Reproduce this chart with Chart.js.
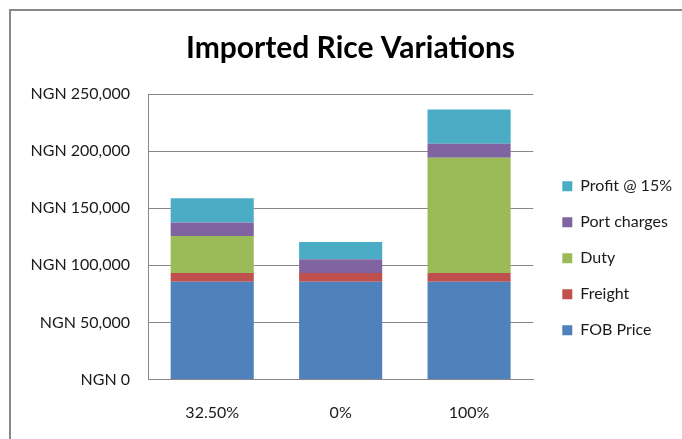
<!DOCTYPE html>
<html>
<head>
<meta charset="utf-8">
<title>Imported Rice Variations</title>
<script src="https://cdn.jsdelivr.net/npm/chart.js@4/dist/chart.umd.min.js"></script>
<style>
  html, body { margin: 0; padding: 0; background: #ffffff; }
  #wrap { position: relative; width: 682px; height: 439px; }
</style>
</head>
<body>
<div id="wrap"><canvas id="chart" width="682" height="439"></canvas></div>
<script>
// Duty scenarios (duty rate applied to imported rice)
const categories = ['32.50%', '0%', '100%'];

// Cost build-up per tonne, in Naira
const fobPrice    = [85600, 85600, 85600];
const freight     = [7600, 7600, 7600];
const duty        = [32500, 0, 100900];
const portCharges = [11700, 12000, 12300];
const profit      = [21400, 15200, 30100];

// Value axis
const yMin = 0;
const yMax = 250000;
const yStep = 50000;
const currencyPrefix = 'NGN ';

const FONT = 'Lato, "Open Sans", sans-serif';
const TEXT = '#1a1a1a';
const GRID = '#878787';

// Frame drawn around the whole chart
const framePlugin = {
  id: 'frame',
  beforeDraw(chart) {
    const ctx = chart.ctx;
    ctx.save();
    ctx.fillStyle = '#ffffff';
    ctx.fillRect(0, 0, chart.width, chart.height);
    ctx.strokeStyle = '#888888';
    ctx.lineWidth = 2;
    ctx.beginPath();
    ctx.moveTo(10, chart.height);
    ctx.lineTo(10, 10);
    ctx.lineTo(chart.width, 10);
    ctx.stroke();
    ctx.restore();
  }
};

// Nudges the title and legend boxes after layout
const nudgePlugin = {
  id: 'nudge',
  afterLayout(chart) {
    if (chart.titleBlock) {
      chart.titleBlock.left += 14;
      chart.titleBlock.right += 14;
    }
    if (chart.legend) {
      chart.legend.left += 9;
      chart.legend.right += 9;
      chart.legend.top += 47;
      chart.legend.bottom += 47;
    }
  }
};

new Chart(document.getElementById('chart'), {
  type: 'bar',
  data: {
    labels: categories,
    datasets: [
      { label: 'FOB Price',      data: fobPrice,    backgroundColor: '#4F81BD' },
      { label: 'Freight',        data: freight,     backgroundColor: '#C0504D' },
      { label: 'Duty',           data: duty,        backgroundColor: '#9BBB59' },
      { label: 'Port charges',   data: portCharges, backgroundColor: '#8064A2' },
      { label: 'Profit @ 15%',   data: profit,      backgroundColor: '#4BACC6' }
    ]
  },
  options: {
    responsive: false,
    animation: false,
    devicePixelRatio: 1,
    layout: { padding: { top: 0, left: 0, right: 9, bottom: 16.5 } },
    datasets: {
      bar: { categoryPercentage: 1.0, barPercentage: 0.647, borderWidth: 0 }
    },
    plugins: {
      title: {
        display: true,
        text: 'Imported Rice Variations',
        color: '#000000',
        font: { family: FONT, size: 30, weight: 'bold', lineHeight: 1.2 },
        padding: { top: 30.5, bottom: 27.5 }
      },
      legend: {
        position: 'right',
        reverse: true,
        labels: {
          boxWidth: 10,
          boxHeight: 10,
          padding: 20,
          color: TEXT,
          font: { family: FONT, size: 16 }
        }
      },
      tooltip: { enabled: false }
    },
    scales: {
      x: {
        stacked: true,
        afterFit(scale) { scale.height = 43; },
        grid: { display: false, drawTicks: false },
        border: { display: true, color: GRID },
        ticks: { color: TEXT, padding: 24, font: { family: FONT, size: 16 } }
      },
      y: {
        stacked: true,
        min: yMin,
        max: yMax,
        afterFit(scale) { scale.width = 148; },
        grid: { color: GRID, drawTicks: false },
        border: { display: true, color: GRID },
        ticks: {
          stepSize: yStep,
          padding: 18,
          color: TEXT,
          font: { family: FONT, size: 16 },
          callback: (v) => currencyPrefix + Number(v).toLocaleString('en-US')
        }
      }
    }
  },
  plugins: [framePlugin, nudgePlugin]
});
</script>
</body>
</html>
